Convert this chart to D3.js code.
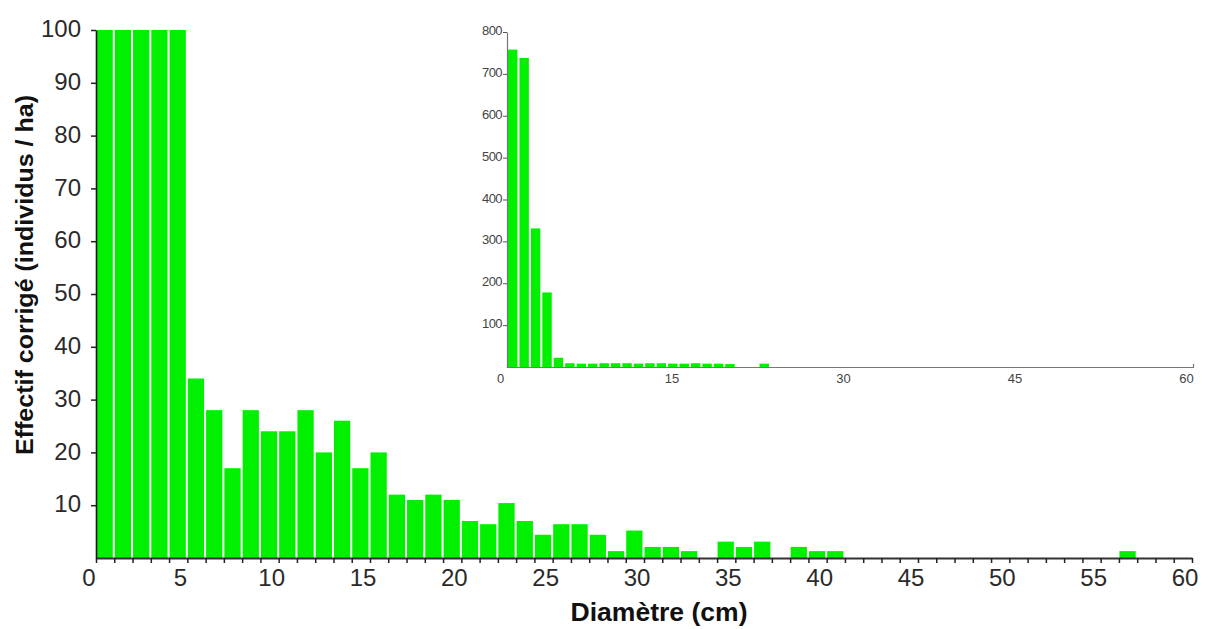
<!DOCTYPE html>
<html>
<head>
<meta charset="utf-8">
<script src="https://cdn.jsdelivr.net/npm/d3@7"></script>
<style>
  html, body { margin: 0; padding: 0; background: #fff; }
  svg { display: block; font-family: "Liberation Sans", Arial, sans-serif; }
</style>
</head>
<body>
<svg id="chart" width="1208" height="629"></svg>
<script>
// ---- DATA ----
// Main histogram: 1-cm diameter classes (class start in cm), corrected density (individuals / ha).
// First five classes run off the top of the 0-100 scale and are shown clipped at 100.
const mainClassStart = [0,1,2,3,4,5,6,7,8,9,10,11,12,13,14,15,16,17,18,19,
                        20,21,22,23,24,25,26,27,28,29,30,31,32,33,34,35,36,37,38,39,
                        40,41,42,43,44,45,46,47,48,49,50,51,52,53,54,55,56,57,58,59];
const mainValues = [100,100,100,100,100,34,28,17,28,24,24,28,20,26,17,20,12,11,12,11,
                    7,6.4,10.4,7,4.4,6.4,6.4,4.4,1.3,5.2,2.1,2.1,1.3,0,3.1,2.1,3.1,0,2.1,1.3,
                    1.3,0,0,0,0,0,0,0,0,0,0,0,0,0,0,0,1.3,0,0,0];
const mainYTicks = [10,20,30,40,50,60,70,80,90,100];
const mainXLabels = [0,5,10,15,20,25,30,35,40,45,50,55,60];

// Inset histogram: full range of the first classes
const insetClassStart = [0,1,2,3,4,5,6,7,8,9,10,11,12,13,14,15,16,17,18,19,20,21,22];
const insetValues = [758,738,331,178,22,9,8,8,9,9,9,8,9,9,8,8,9,8,8,7,0,0,8];
const insetYTicks = [100,200,300,400,500,600,700,800];
const insetXLabels = [0,15,30,45,60];

const xTitle = "Diamètre (cm)";
const yTitle = "Effectif corrigé (individus / ha)";

// ---- DRAW ----
const svg = d3.select("#chart");
const green = "#00f000";

// Main chart scales
const x = d3.scaleLinear().domain([0, 60]).range([96, 1192]);
const y = d3.scaleLinear().domain([0, 100]).range([558, 30]).clamp(true);
const step = x(1) - x(0);

svg.append("g").selectAll("rect")
  .data(mainClassStart.map((c, i) => ({c, v: mainValues[i]})).filter(d => d.v > 0))
  .join("rect")
  .attr("x", d => x(d.c) + 0.5)
  .attr("width", step - 2)
  .attr("y", d => y(d.v))
  .attr("height", d => y(0) - y(d.v))
  .attr("fill", green);

// Main x axis
const xAxisG = svg.append("g").attr("transform", `translate(0,${y(0)})`)
  .call(d3.axisBottom(x).tickValues(d3.range(0, 61, 1)).tickSize(5).tickSizeOuter(0).tickFormat(""));
xAxisG.select(".domain").attr("stroke", "#333").attr("stroke-width", 2.2);
xAxisG.selectAll(".tick line").attr("stroke", "#222").attr("stroke-width", 1.5);

svg.append("g").selectAll("text")
  .data(mainXLabels)
  .join("text")
  .attr("x", d => x(d) - 7)
  .attr("y", 586)
  .attr("text-anchor", "middle")
  .attr("font-size", 24)
  .attr("fill", "#2a2a2a")
  .text(d => d);

// Main y axis
const yAxisG = svg.append("g").attr("transform", `translate(${x(0)},0)`)
  .call(d3.axisLeft(y).tickValues(mainYTicks).tickSize(5).tickSizeOuter(0).tickPadding(10));
yAxisG.select(".domain").attr("stroke", "#111").attr("stroke-width", 1.6);
yAxisG.selectAll(".tick line").attr("stroke", "#222").attr("stroke-width", 1.5);
yAxisG.selectAll(".tick text")
  .attr("font-size", 24)
  .attr("font-family", "Liberation Sans, Arial, sans-serif")
  .attr("fill", "#2a2a2a")
  .attr("dy", "0.28em");

// Axis titles
svg.append("text")
  .attr("x", 659).attr("y", 621)
  .attr("text-anchor", "middle")
  .attr("font-size", 25).attr("font-weight", "bold")
  .attr("fill", "#111")
  .attr("textLength", 177)
  .attr("lengthAdjust", "spacingAndGlyphs")
  .text(xTitle);

svg.append("text")
  .attr("transform", "translate(33,275) rotate(-90)")
  .attr("text-anchor", "middle")
  .attr("font-size", 23).attr("font-weight", "bold")
  .attr("fill", "#111")
  .attr("textLength", 360)
  .attr("lengthAdjust", "spacingAndGlyphs")
  .text(yTitle);

// ---- Inset ----
const xi = d3.scaleLinear().domain([0, 60]).range([507, 1193]);
const yi = d3.scaleLinear().domain([0, 800]).range([367, 32]);
const stepi = xi(1) - xi(0);

svg.append("g").selectAll("rect")
  .data(insetClassStart.map((c, i) => ({c, v: insetValues[i]})).filter(d => d.v > 0))
  .join("rect")
  .attr("x", d => xi(d.c) + 1)
  .attr("width", stepi - 2)
  .attr("y", d => yi(d.v))
  .attr("height", d => yi(0) - yi(d.v))
  .attr("fill", green);

const xiG = svg.append("g").attr("transform", `translate(0,${yi(0)})`)
  .call(d3.axisBottom(xi).tickValues(insetXLabels).tickSize(0).tickSizeOuter(-3).tickPadding(7));
xiG.select(".domain").attr("stroke", "#777").attr("stroke-width", 1.2);
xiG.selectAll(".tick text")
  .attr("font-size", 13)
  .attr("font-family", "Liberation Sans, Arial, sans-serif")
  .attr("fill", "#444")
  .attr("dx", -7);

const yiG = svg.append("g").attr("transform", `translate(${xi(0)},0)`)
  .call(d3.axisLeft(yi).tickValues(insetYTicks).tickSize(4).tickSizeOuter(0).tickPadding(1));
yiG.select(".domain").attr("stroke", "#777").attr("stroke-width", 1.2);
yiG.selectAll(".tick line").attr("stroke", "#555");
yiG.selectAll(".tick text")
  .attr("font-size", 13)
  .attr("font-family", "Liberation Sans, Arial, sans-serif")
  .attr("fill", "#444")
  .attr("letter-spacing", "-0.6")
  .attr("dy", "0.2em");
</script>
</body>
</html>
